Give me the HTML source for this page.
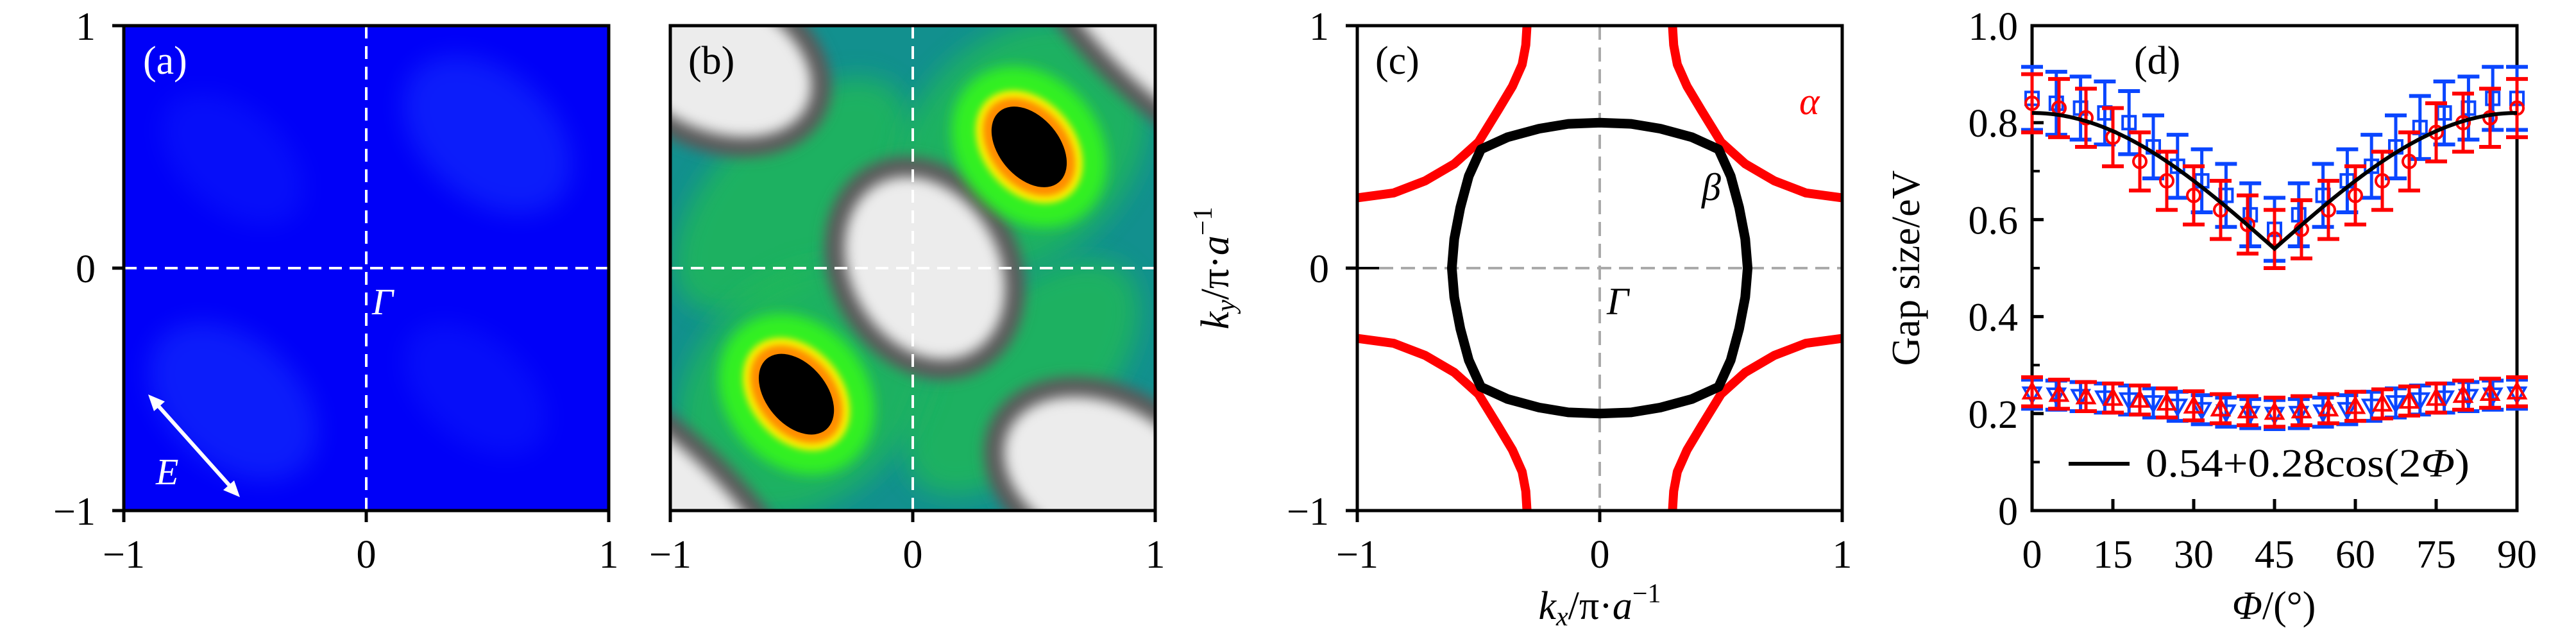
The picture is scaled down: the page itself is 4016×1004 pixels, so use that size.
<!DOCTYPE html>
<html><head><meta charset="utf-8">
<style>
html,body{margin:0;padding:0;background:#fff;width:4016px;height:1004px;overflow:hidden;position:relative;}
svg{display:block;position:absolute;left:0;top:0;overflow:hidden;}
text{font-family:"Liberation Serif",serif;}
</style></head>
<body>
<svg id="fig" width="4016" height="1004" viewBox="0 0 4016 1004" xmlns="http://www.w3.org/2000/svg">
<defs>
  <filter id="blur20" x="-50%" y="-50%" width="200%" height="200%"><feGaussianBlur stdDeviation="20"/></filter>
  <filter id="blur10" x="-50%" y="-50%" width="200%" height="200%"><feGaussianBlur stdDeviation="10"/></filter>
  <filter id="blur5" x="-50%" y="-50%" width="200%" height="200%"><feGaussianBlur stdDeviation="5"/></filter>
  <clipPath id="clipA"><rect x="193" y="40" width="756" height="756"/></clipPath>
  <clipPath id="clipB"><rect x="1045" y="40" width="756" height="756"/></clipPath>
  <clipPath id="clipC"><rect x="2116" y="40" width="756" height="756"/></clipPath>
  <clipPath id="clipD"><rect x="3168" y="40" width="756" height="756"/></clipPath>
</defs>
<g id="root"></g>
</svg>
<script>
// ---------- Panel (d) data ----------
const redAngles = [0,5,10,15,20,25,30,35,40,45,50,55,60,65,70,75,80,85,90];
const redUpper = [0.84,0.83,0.81,0.77,0.72,0.68,0.65,0.62,0.59,0.56,0.58,0.62,0.65,0.68,0.72,0.78,0.80,0.81,0.83];
const redUpperErr = [0.06,0.06,0.06,0.06,0.06,0.06,0.06,0.06,0.06,0.06,0.06,0.06,0.06,0.06,0.06,0.06,0.06,0.06,0.06];
const blueAngles = [0,4.5,9,13.5,18,22.5,27,31.5,36,40.5,45,49.5,54,58.5,63,67.5,72,76.5,81,85.5,90];
const blueUpper = [0.85,0.84,0.83,0.82,0.80,0.75,0.71,0.68,0.65,0.61,0.58,0.61,0.65,0.68,0.71,0.75,0.79,0.82,0.83,0.85,0.85];
const blueUpperErr = [0.065,0.065,0.065,0.065,0.065,0.065,0.065,0.065,0.065,0.065,0.065,0.065,0.065,0.065,0.065,0.065,0.065,0.065,0.065,0.065,0.065];
const redLower = [0.245,0.24,0.235,0.232,0.228,0.222,0.216,0.21,0.206,0.203,0.206,0.21,0.215,0.22,0.226,0.232,0.238,0.242,0.245];
const redLowerErr = [0.03,0.03,0.03,0.03,0.03,0.03,0.03,0.03,0.03,0.03,0.03,0.03,0.03,0.03,0.03,0.03,0.03,0.03,0.03];
const blueLower = [0.24,0.238,0.235,0.232,0.228,0.222,0.215,0.208,0.203,0.2,0.198,0.2,0.203,0.208,0.215,0.222,0.228,0.232,0.235,0.238,0.24];
const blueLowerErr = [0.03,0.03,0.03,0.03,0.03,0.03,0.03,0.03,0.03,0.03,0.03,0.03,0.03,0.03,0.03,0.03,0.03,0.03,0.03,0.03,0.03];
const fitA = 0.54, fitB = 0.28;
const dXTicks = [0,15,30,45,60,75,90];
const dYTicks = [0,0.2,0.4,0.6,0.8,1.0];
const dYTickLabels = ["0","0.2","0.4","0.6","0.8","1.0"];
const dYMinor = [0.1,0.3,0.5,0.7,0.9];
// ---------- Panel (c) data (one quadrant, mirrored) ----------
const alphaKx = [-0.30,-0.305,-0.32,-0.36,-0.42,-0.50,-0.60,-0.72,-0.85,-1.0];
const alphaKy = [1.0,0.92,0.84,0.75,0.65,0.52,0.43,0.36,0.31,0.29];
const betaKx = [0,-0.13,-0.25,-0.38,-0.49,-0.54,-0.575,-0.60,-0.61];
const betaKy = [0.60,0.595,0.575,0.54,0.49,0.38,0.25,0.12,0];
const kTicks = [-1,0,1];
const kTickLabels = ["\u22121","0","1"];

const NS = "http://www.w3.org/2000/svg";
const root = document.getElementById('root');
function el(tag, attrs, parent){ const e=document.createElementNS(NS,tag); for(const k in attrs) e.setAttribute(k,attrs[k]); (parent||root).appendChild(e); return e; }
function txt(s, attrs, parent){ const e=el('text',attrs,parent); e.textContent=s; return e; }

const Y0=40, SZ=756;
function kx(x0,v){ return x0 + (v+1)/2*SZ; }
function ky(v){ return Y0 + (1-v)/2*SZ; }

function frame(x0, name, yLabels){
  const g = el('g',{});
  
  
  el('rect',{x:x0,y:Y0,width:SZ,height:SZ,fill:'none',stroke:'#000','stroke-width':5},g);
  kTicks.forEach((t,i)=>{
    const X=kx(x0,t);
    el('line',{x1:X,y1:Y0+SZ,x2:X,y2:Y0+SZ+18,stroke:'#000','stroke-width':5},g);
    const lt = txt(kTickLabels[i],{x:X,y:885,'font-size':62,'text-anchor':'middle'},g);
    
    
    if(yLabels){
      const Y=ky(t);
      el('line',{x1:x0,y1:Y,x2:x0-18,y2:Y,stroke:'#000','stroke-width':5},g);
      const ly = txt(kTickLabels[i],{x:x0-44,y:Y+22,'font-size':62,'text-anchor':'end'},g);
      
      
    }
  });
  return g;
}

// ---------- Panel (a) ----------
(function(){
  const x0=193;
  const g=el('g',{'clip-path':'url(#clipA)'});
  
  
  el('rect',{x:x0,y:Y0,width:SZ,height:SZ,fill:'#0000f8'},g);
  [[0.5,0.55,150,100,0.3],[-0.55,-0.55,150,100,0.3],[-0.55,0.45,130,80,0.15],[0.45,-0.5,130,80,0.15]].forEach(b=>{
    el('ellipse',{cx:kx(x0,b[0]),cy:ky(b[1]),rx:b[2],ry:b[3],fill:'#2a60ff',opacity:b[4],transform:`rotate(40 ${kx(x0,b[0])} ${ky(b[1])})`,filter:'url(#blur20)'},g);
  });
  el('line',{x1:kx(x0,0),y1:Y0,x2:kx(x0,0),y2:Y0+SZ,stroke:'#fff','stroke-width':4,'stroke-dasharray':'20 12'},g);
  el('line',{x1:x0,y1:ky(0),x2:x0+SZ,y2:ky(0),stroke:'#fff','stroke-width':4,'stroke-dasharray':'20 12'},g);
  const arr=el('g',{},g);
  
  
  el('line',{x1:238,y1:623,x2:366,y2:766,stroke:'#fff','stroke-width':6},arr);
  el('polygon',{points:'231,615 257,626 240,641',fill:'#fff'},arr);
  el('polygon',{points:'374,775 348,764 365,749',fill:'#fff'},arr);
  const tE=txt('E',{x:243,y:755,'font-size':58,'font-style':'italic',fill:'#fff'});
   
  const tG=txt('Γ',{x:580,y:490,'font-size':58,'font-style':'italic',fill:'#fff'});
   
  const tl=txt('(a)',{x:223,y:115,'font-size':62,fill:'#fff'});
   
  frame(x0,'panel-a',true);
})();

// ---------- Panel (b) ----------
(function(){
  const x0=1045;
  const g=el('g',{'clip-path':'url(#clipB)'});
  
  
  el('rect',{x:x0,y:Y0,width:SZ,height:SZ,fill:'#12908e'},g);
  [[-0.5,0.3,230,120],[0.45,-0.45,230,120],[0.45,0.5,220,170],[-0.45,-0.5,220,170]].forEach(b=>{
    el('ellipse',{cx:kx(x0,b[0]),cy:ky(b[1]),rx:b[2],ry:b[3],fill:'#20c050',opacity:0.7,transform:`rotate(-45 ${kx(x0,b[0])} ${ky(b[1])})`,filter:'url(#blur20)'},g);
  });
  const whites=[[0.05,0.0,115,150,-30],[-0.82,0.85,160,105,25],[0.78,-0.85,160,110,25],[1.05,1.05,300,110,45],[-1.05,-1.05,300,110,45]];
  whites.forEach(b=>{
    const cx=kx(x0,b[0]), cy=ky(b[1]);
    el('ellipse',{cx,cy,rx:b[2]+32,ry:b[3]+32,fill:'#5c5c5c',transform:`rotate(${b[4]} ${cx} ${cy})`,filter:'url(#blur10)'},g);
  });
  whites.forEach(b=>{
    const cx=kx(x0,b[0]), cy=ky(b[1]);
    el('ellipse',{cx,cy,rx:b[2],ry:b[3],fill:'#ececec',transform:`rotate(${b[4]} ${cx} ${cy})`,filter:'url(#blur10)'},g);
  });
  [[0.48,0.5],[-0.48,-0.52]].forEach(p=>{
    const cx=kx(x0,p[0]), cy=ky(p[1]), tr=`rotate(50 ${cx} ${cy})`;
    el('ellipse',{cx,cy,rx:135,ry:110,fill:'#30f020',transform:tr,filter:'url(#blur10)'},g);
    el('ellipse',{cx,cy,rx:98,ry:72,fill:'#f8f000',transform:tr,filter:'url(#blur5)'},g);
    el('ellipse',{cx,cy,rx:86,ry:60,fill:'#ff8c00',transform:tr,filter:'url(#blur5)'},g);
    el('ellipse',{cx,cy,rx:72,ry:47,fill:'#000',transform:tr},g);
  });
  el('line',{x1:kx(x0,0),y1:Y0,x2:kx(x0,0),y2:Y0+SZ,stroke:'#fff','stroke-width':4,'stroke-dasharray':'20 12'},g);
  el('line',{x1:x0,y1:ky(0),x2:x0+SZ,y2:ky(0),stroke:'#fff','stroke-width':4,'stroke-dasharray':'20 12'},g);
  const tl=txt('(b)',{x:1073,y:115,'font-size':62,fill:'#000'});
   
  frame(x0,'panel-b',false);
})();

// ---------- Panel (c) ----------
(function(){
  const x0=2116;
  const g=el('g',{'clip-path':'url(#clipC)'});
  
  
  el('line',{x1:kx(x0,0),y1:Y0,x2:kx(x0,0),y2:Y0+SZ,stroke:'#aaa','stroke-width':4,'stroke-dasharray':'22 12'},g);
  el('line',{x1:x0,y1:ky(0),x2:x0+SZ,y2:ky(0),stroke:'#aaa','stroke-width':4,'stroke-dasharray':'22 12'},g);
  [[1,1],[-1,1],[1,-1],[-1,-1]].forEach(s=>{
    const pts=alphaKx.map((v,i)=>kx(x0,v*s[0])+','+ky(alphaKy[i]*s[1])).join(' ');
    const p=el('polyline',{points:pts,fill:'none',stroke:'#f00','stroke-width':14,'stroke-linejoin':'round'},g);
    
    
  });
  const loop=[];
  [[1,1],[-1,1],[-1,-1],[1,-1]].forEach(s=>{
    betaKx.forEach((v,i)=>loop.push([v*s[0],betaKy[i]*s[1]]));
  });
  loop.sort((a,b)=>Math.atan2(a[1],a[0])-Math.atan2(b[1],b[0]));
  const bpoly=el('polygon',{points:loop.map(p=>kx(x0,p[0])+','+ky(p[1])).join(' '),fill:'none',stroke:'#000','stroke-width':15,'stroke-linejoin':'round'},g);
  
  
  const ta=txt('α',{x:2805,y:178,'font-size':60,'font-style':'italic',fill:'#f00'});
   
  const tb=txt('β',{x:2653,y:312,'font-size':60,'font-style':'italic'});
   
  const tg=txt('Γ',{x:2505,y:490,'font-size':60,'font-style':'italic'});
   
  const tl=txt('(c)',{x:2144,y:115,'font-size':62});
   
  frame(x0,'panel-c',true);
  el('line',{x1:2116,y1:ky(0),x2:2150,y2:ky(0),stroke:'#000','stroke-width':4});
  const xl=txt('',{x:2494,y:965,'font-size':62,'text-anchor':'middle'});
   
  xl.innerHTML='<tspan font-style="italic">k</tspan><tspan font-style="italic" font-size="42" dy="10">x</tspan><tspan dy="-10">/π·</tspan><tspan font-style="italic">a</tspan><tspan font-size="42" dy="-26">−1</tspan>';
  const yl=txt('',{x:0,y:0,'font-size':62,'text-anchor':'middle',transform:'translate(1915,418) rotate(-90)'});
   
  yl.innerHTML='<tspan font-style="italic">k</tspan><tspan font-style="italic" font-size="42" dy="10">y</tspan><tspan dy="-10">/π·</tspan><tspan font-style="italic">a</tspan><tspan font-size="42" dy="-26">−1</tspan>';
})();

// ---------- Panel (d) ----------
(function(){
  const x0=3168, x1=3924, yb=796;
  const dx=v=>x0+v/90*(x1-x0);
  const dy=v=>yb-v*SZ;
  const ax=el('g',{});
  
  
  el('rect',{x:x0,y:Y0,width:SZ,height:SZ,fill:'none',stroke:'#000','stroke-width':5},ax);
  dXTicks.forEach(t=>{
    el('line',{x1:dx(t),y1:yb,x2:dx(t),y2:yb-18,stroke:'#000','stroke-width':5},ax);
    const l=txt(String(t),{x:dx(t),y:885,'font-size':62,'text-anchor':'middle'},ax);
     
  });
  dYTicks.forEach((t,i)=>{
    el('line',{x1:x0,y1:dy(t),x2:x0+18,y2:dy(t),stroke:'#000','stroke-width':5},ax);
    const l=txt(dYTickLabels[i],{x:x0-22,y:dy(t)+22,'font-size':62,'text-anchor':'end'},ax);
     
  });
  dYMinor.forEach(t=>el('line',{x1:x0,y1:dy(t),x2:x0+12,y2:dy(t),stroke:'#000','stroke-width':4},ax));
  function series(angles, vals, errs, color, marker, name){
    const sg=el('g',{},root);
    
    
    angles.forEach((a,i)=>{
      const X=dx(a), Y=dy(vals[i]), e=errs[i]*SZ;
      el('line',{x1:X,y1:Y-e,x2:X,y2:Y+e,stroke:color,'stroke-width':5},sg);
      el('line',{x1:X-17,y1:Y-e,x2:X+17,y2:Y-e,stroke:color,'stroke-width':6},sg);
      el('line',{x1:X-17,y1:Y+e,x2:X+17,y2:Y+e,stroke:color,'stroke-width':6},sg);
      let m;
      if(marker==='circle') m=el('circle',{cx:X,cy:Y,r:10,fill:'none',stroke:color,'stroke-width':4},sg);
      else if(marker==='square') m=el('rect',{x:X-10,y:Y-10,width:20,height:20,fill:'none',stroke:color,'stroke-width':4},sg);
      else if(marker==='up') m=el('polygon',{points:`${X},${Y-13} ${X-13},${Y+10} ${X+13},${Y+10}`,fill:'none',stroke:color,'stroke-width':4},sg);
      else m=el('polygon',{points:`${X},${Y+13} ${X-13},${Y-10} ${X+13},${Y-10}`,fill:'none',stroke:color,'stroke-width':4},sg);
      
      
    });
  }
  series(blueAngles, blueUpper, blueUpperErr, '#0a46ff','square','blue-upper-gap');
  series(blueAngles, blueLower, blueLowerErr, '#0a46ff','down','blue-lower-gap');
  series(redAngles, redUpper, redUpperErr, '#ff0000','circle','red-upper-gap');
  series(redAngles, redLower, redLowerErr, '#ff0000','up','red-lower-gap');
  const fp=[];
  for(let a=0;a<=90;a+=0.5) fp.push(dx(a)+','+dy(fitA+fitB*Math.abs(Math.cos(2*a*Math.PI/180))));
  const fit=el('polyline',{points:fp.join(' '),fill:'none',stroke:'#000','stroke-width':6});
  
  
  const lg=el('g',{});
  
  
  el('line',{x1:3225,y1:723,x2:3320,y2:723,stroke:'#000','stroke-width':6},lg);
  const lt=txt('',{x:3345,y:743,'font-size':62,textLength:505,lengthAdjust:'spacingAndGlyphs'},lg);
  lt.innerHTML='0.54+0.28cos(2<tspan font-style="italic">Φ</tspan>)';
  const tl=txt('(d)',{x:3327,y:115,'font-size':62});
   
  const xl=txt('',{x:3545,y:965,'font-size':62,'text-anchor':'middle'});
   
  xl.innerHTML='<tspan font-style="italic">Φ</tspan>/(°)';
  const yl=txt('Gap size/eV',{x:0,y:0,'font-size':62,'text-anchor':'middle',transform:'translate(2992,418) rotate(-90)'});
   
})();
</script>
</body></html>
